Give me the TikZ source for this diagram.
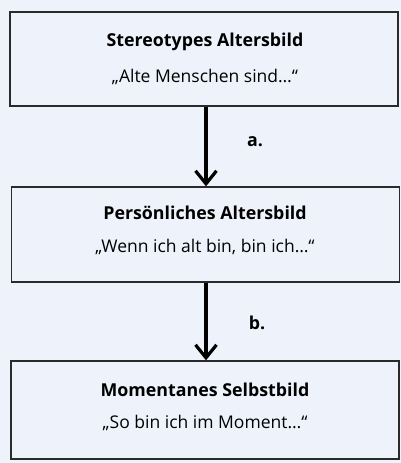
\documentclass[tikz,border=0pt]{standalone}
\usepackage{fontspec}
\setmainfont{Open Sans}
\usetikzlibrary{arrows.meta}
\definecolor{bg}{HTML}{EEF3FB}
\definecolor{boxline}{HTML}{2A2A2A}
\begin{document}
\begin{tikzpicture}[x=1pt,y=1pt,
  infobox/.style={draw=boxline,line width=1.3pt,fill=bg,minimum width=388pt,inner sep=0pt},
  title/.style={font=\fontsize{17.8}{20}\selectfont\bfseries},
  quote/.style={font=\fontsize{17.5}{20}\selectfont},
  flow/.style={line width=3.8pt,-{Straight Barb[length=13pt,width=21pt,line width=3.2pt]}},
  lab/.style={font=\fontsize{17.8}{20}\selectfont\bfseries}]
\fill[bg] (0,0) rectangle (401,463);
\useasboundingbox (0,0) rectangle (401,463);
\node[infobox,minimum height=94pt] (b1) at (204,404) {};
\node[infobox,minimum height=95pt] (b2) at (205.5,228.5) {};
\node[infobox,minimum height=98pt] (b3) at (205,53) {};
\node[title] (t1) at (205,421) {Stereotypes Altersbild};
\node[quote] (q1) at (205,386) {„Alte Menschen sind…“};
\node[title] (t2) at (205,250) {Persönliches Altersbild};
\node[quote] (q2) at (205,216) {„Wenn ich alt bin, bin ich…“};
\node[title] (t3) at (205,73) {Momentanes Selbstbild};
\node[quote] (q3) at (205,40) {„So bin ich im Moment…“};
\draw[flow] (b1.south -| 206,0) -- (b2.north -| 206,0);
\draw[flow] (b2.south -| 206,0) -- (b3.north -| 206,0);
\node[lab] (la) at (255,321) {a.};
\node[lab] (lb) at (257,140) {b.};
\end{tikzpicture}
\end{document}
